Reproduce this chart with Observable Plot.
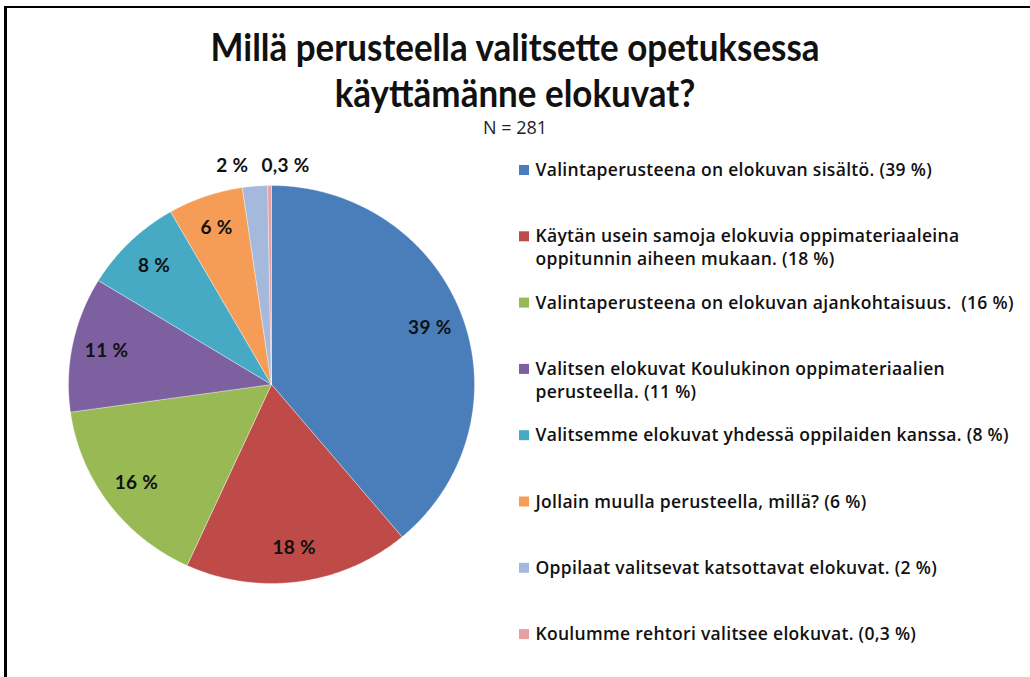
<!DOCTYPE html>
<html>
<head>
<meta charset="utf-8">
<script src="https://cdn.jsdelivr.net/npm/d3@7"></script>
<script src="https://cdn.jsdelivr.net/npm/@observablehq/plot@0.6"></script>
<style>
  html, body { margin: 0; padding: 0; background: #fff; }
  #page { position: relative; width: 1030px; height: 677px; overflow: hidden; background: #fff; }
  #frame { position: absolute; left: 4px; top: 6px; width: 1030px; height: 680px;
           border-left: 3px solid #000; border-top: 2px solid #000; box-sizing: border-box; }
  .title { position: absolute; left: 0; width: 1030px; text-align: center;
           font-family: Lato, "Open Sans", sans-serif; font-weight: 700; font-size: 38px;
           line-height: 46px; height: 46px; color: #111; white-space: nowrap; }
  .title span { display: inline-block; transform: scaleX(0.92); transform-origin: center; }
  #sub { position: absolute; left: 0; width: 1030px; top: 116px; text-align: center;
         font-family: "Open Sans", sans-serif; font-size: 18px; line-height: 22px; color: #222; }
  #chart { position: absolute; left: 0; top: 140px; }
  #chart text { letter-spacing: 0.3px; }
</style>
</head>
<body>
<div id="page">
  <div id="frame"></div>
  <div class="title" style="top:23px"><span>Millä perusteella valitsette opetuksessa</span></div>
  <div class="title" style="top:69px"><span>käyttämänne elokuvat?</span></div>
  <div id="sub">N = 281</div>
  <div id="chart"></div>
</div>
<script>
// ---- data ----
const categories = [
  "Valintaperusteena on elokuvan sisältö. (39 %)",
  "Käytän usein samoja elokuvia oppimateriaaleina\noppitunnin aiheen mukaan. (18 %)",
  "Valintaperusteena on elokuvan ajankohtaisuus.  (16 %)",
  "Valitsen elokuvat Koulukinon oppimateriaalien\nperusteella. (11 %)",
  "Valitsemme elokuvat yhdessä oppilaiden kanssa. (8 %)",
  "Jollain muulla perusteella, millä? (6 %)",
  "Oppilaat valitsevat katsottavat elokuvat. (2 %)",
  "Koulumme rehtori valitsee elokuvat. (0,3 %)"
];
const values = [39, 18, 16, 11, 8, 6, 2, 0.3];
const valueLabels = ["39 %", "18 %", "16 %", "11 %", "8 %", "6 %", "2 %", "0,3 %"];
const colors = ["#4A7EBB", "#BE4B48", "#98B954", "#7D60A0", "#46AAC5", "#F59D56", "#A5B9DC", "#E6A0A0"];

// ---- layout ----
const W = 1030, H = 537;
const cx = 271, cy = 244, rx = 203, ry = 199;

const arcs = d3.pie().sort(null).value(d => d)(values);

const slicePts = [];
arcs.forEach((a, i) => {
  const n = Math.max(2, Math.ceil((a.endAngle - a.startAngle) / (Math.PI / 360)));
  slicePts.push({k: i, x: cx, y: cy, c: colors[i]});
  for (let j = 0; j <= n; j++) {
    const t = a.startAngle + (a.endAngle - a.startAngle) * j / n;
    slicePts.push({k: i, x: cx + rx * Math.sin(t), y: cy - ry * Math.cos(t), c: colors[i]});
  }
  slicePts.push({k: i, x: cx, y: cy, c: colors[i]});
});

const inside = [], outside = [];
arcs.forEach((a, i) => {
  const m = (a.startAngle + a.endAngle) / 2;
  if (values[i] >= 5) {
    inside.push({x: cx + 0.83 * rx * Math.sin(m), y: cy - 0.83 * ry * Math.cos(m), t: valueLabels[i]});
  } else {
    outside.push({x: cx + 1.1 * rx * Math.sin(m), y: cy - 1.1 * ry, t: valueLabels[i],
                  anchor: i === values.length - 1 ? "start" : "end"});
  }
});

const legendRows = [], legendBoxes = [];
categories.forEach((c, i) => {
  const y0 = 30 + 66.3 * i;
  legendBoxes.push({x1: 519, x2: 529, y1: y0 - 5, y2: y0 + 5, c: colors[i]});
  c.split("\n").forEach((line, j) => legendRows.push({x: 535, y: y0 + j * 22.5, t: line}));
});

const labelFont = {fontSize: 19, fontWeight: "bold", fontFamily: "Lato, sans-serif", fill: "#111"};

const chart = Plot.plot({
  width: W, height: H, margin: 0,
  x: {domain: [0, W], range: [0, W], axis: null},
  y: {domain: [0, H], range: [0, H], axis: null},
  color: {type: "identity"},
  marks: [
    Plot.line(slicePts, {x: "x", y: "y", z: "k", fill: "c", stroke: "#ffffff", strokeWidth: 0.6, strokeOpacity: 0.6, curve: "linear"}),
    Plot.text(inside, {x: "x", y: "y", text: "t", ...labelFont}),
    Plot.text(outside.filter(d => d.anchor === "end"), {x: "x", y: "y", text: "t", textAnchor: "end", dx: -5, ...labelFont}),
    Plot.text(outside.filter(d => d.anchor === "start"), {x: "x", y: "y", text: "t", textAnchor: "start", dx: -8, ...labelFont}),
    Plot.rect(legendBoxes, {x1: "x1", x2: "x2", y1: "y1", y2: "y2", fill: "c"}),
    Plot.text(legendRows, {x: "x", y: "y", text: "t", textAnchor: "start", fontSize: 17.5, fontWeight: 600, fontFamily: "'Open Sans', sans-serif", fill: "#111"})
  ]
});
document.getElementById("chart").appendChild(chart);
</script>
</body>
</html>
